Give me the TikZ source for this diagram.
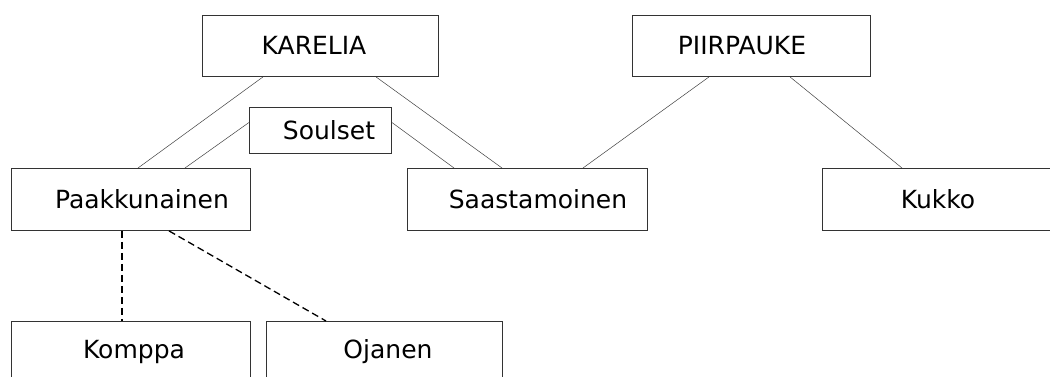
\documentclass[tikz,border=0pt]{standalone}
\usepackage{fontspec}
\setmainfont{DejaVu Sans}
\begin{document}
\begin{tikzpicture}[x=1pt,y=-1pt,
  box/.style={draw=black!80,line width=0.9pt,anchor=north west,inner sep=0pt,fill=white},
  txt/.style={inner sep=0pt,font=\fontsize{25}{30}\selectfont,text=black},
  link/.style={draw=black!75,line width=0.5pt},
  dlink/.style={draw=black,line width=1.3pt,dash pattern=on 7pt off 4pt}]
\useasboundingbox (0,0) rectangle (1050,376);
\clip (0,0) rectangle (1050,376);
% boxes
\node[box,minimum width=236pt,minimum height=61pt] (ka) at (202,15) {};
\node[box,minimum width=238pt,minimum height=61pt] (pi) at (632,15) {};
\node[box,minimum width=142pt,minimum height=46pt] (so) at (249,107) {};
\node[box,minimum width=239pt,minimum height=62pt] (pk) at (11,168) {};
\node[box,minimum width=240pt,minimum height=62pt] (sa) at (407,168) {};
\node[box,minimum width=239pt,minimum height=62pt] (ku) at (822,168) {};
\node[box,minimum width=239pt,minimum height=62pt] (ko) at (11,321) {};
\node[box,minimum width=236pt,minimum height=62pt] (oj) at (266,321) {};
% texts
\node[txt] (kat) at (314,45.5) {KARELIA};
\node[txt] (pit) at (742,45.5) {PIIRPAUKE};
\node[txt] (sot) at (329,130) {Soulset};
\node[txt] (pkt) at (142,199) {Paakkunainen};
\node[txt] (sat) at (538,199) {Saastamoinen};
\node[txt] (kut) at (938,199) {Kukko};
\node[txt] (kot) at (134,352) {Komppa};
\node[txt] (ojt) at (388,352) {Ojanen};
% connectors
\draw[link] ([xshift=61pt]ka.south west) -- ([xshift=127pt]pk.north west);
\draw[link] ([xshift=174pt]ka.south west) -- ([xshift=95pt]sa.north west);
\draw[link] ([yshift=8pt]so.west) -- ([xshift=174pt]pk.north west);
\draw[link] ([yshift=8pt]so.east) -- ([xshift=47pt]sa.north west);
\draw[link] ([xshift=77pt]pi.south west) -- ([xshift=176pt]sa.north west);
\draw[link] ([xshift=158pt]pi.south west) -- ([xshift=80pt]ku.north west);
\draw[dlink] ([xshift=111pt]pk.south west) -- ([xshift=111pt]ko.north west);
\draw[dlink] ([xshift=158pt]pk.south west) -- ([xshift=60pt]oj.north west);
\end{tikzpicture}
\end{document}
